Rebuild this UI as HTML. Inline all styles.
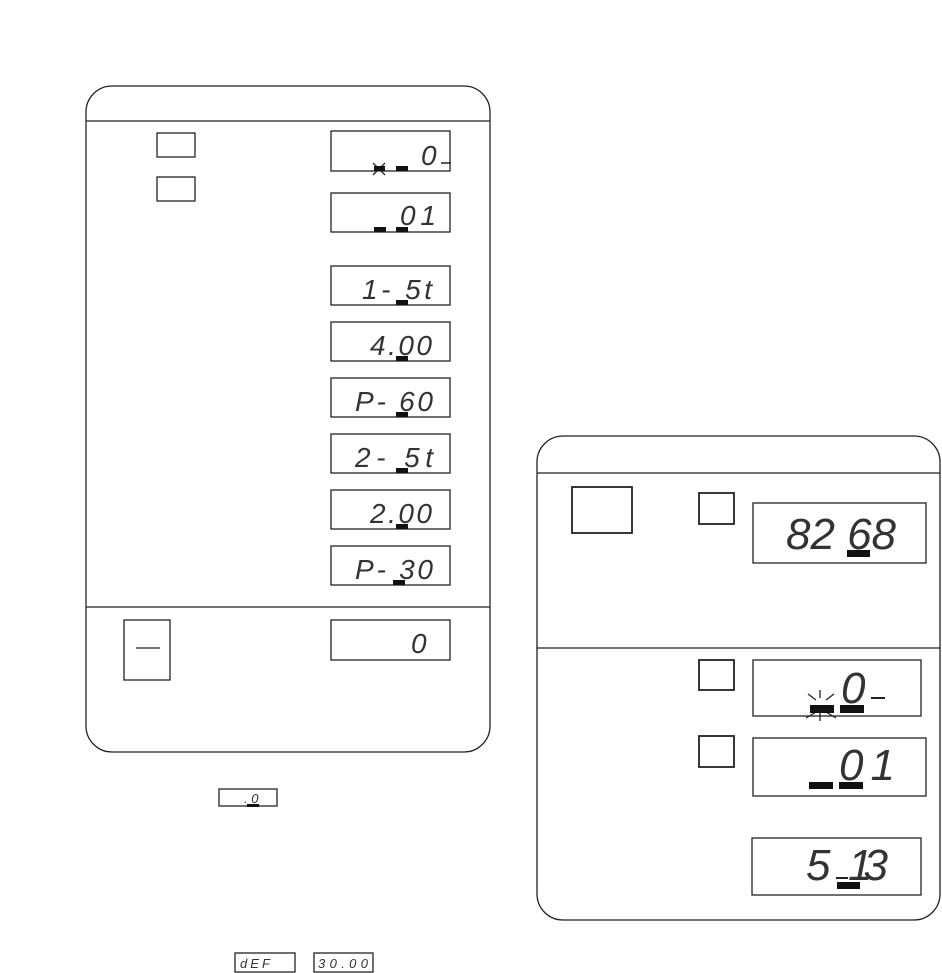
<!DOCTYPE html>
<html><head><style>
html,body{margin:0;padding:0;background:#fff;}
svg{display:block}
text{font-family:"Liberation Sans",sans-serif;font-style:italic;fill:#333;}
</style></head><body>
<svg width="942" height="973" viewBox="0 0 942 973" xmlns="http://www.w3.org/2000/svg">
<g fill="none" stroke="#222" stroke-width="1.3">
<rect x="86" y="86" width="404" height="666" rx="26"/>
<line x1="86" y1="121" x2="490" y2="121"/>
<line x1="86" y1="607" x2="490" y2="607"/>
<rect x="157" y="133" width="38" height="24"/>
<rect x="157" y="177" width="38" height="24"/>
<rect x="124" y="620" width="46" height="60"/>
<line x1="136" y1="648" x2="160" y2="648"/>
<rect x="331" y="131" width="119" height="40"/>
<rect x="331" y="193" width="119" height="39"/>
<rect x="331" y="266" width="119" height="39"/>
<rect x="331" y="322" width="119" height="39"/>
<rect x="331" y="378" width="119" height="39"/>
<rect x="331" y="434" width="119" height="39"/>
<rect x="331" y="490" width="119" height="39"/>
<rect x="331" y="546" width="119" height="39"/>
<rect x="331" y="620" width="119" height="40"/>
<rect x="537" y="436" width="403" height="484" rx="26"/>
<line x1="537" y1="473" x2="940" y2="473"/>
<line x1="537" y1="648" x2="940" y2="648"/>
<rect x="572" y="487" width="60" height="46" stroke-width="1.8"/>
<rect x="699" y="493" width="35" height="31" stroke-width="1.8"/>
<rect x="699" y="660" width="35" height="30" stroke-width="1.8"/>
<rect x="699" y="736" width="35" height="31" stroke-width="1.8"/>
<rect x="753" y="503" width="173" height="60"/>
<rect x="753" y="660" width="168" height="56"/>
<rect x="753" y="738" width="173" height="58"/>
<rect x="752" y="838" width="169" height="57"/>
<rect x="219" y="789" width="58" height="17"/>
<rect x="235" y="953" width="60" height="19"/>
<rect x="314" y="953" width="59" height="19"/>
<path d="M808 694 l8 6 M806 718 l10 -6 M820 690 v8 M820 712 v9 M834 694 l-8 6 M836 718 l-10 -6"/>
<path d="M373 163 l12 12 M385 163 l-12 12"/>
<line x1="441" y1="163" x2="451" y2="163" stroke-width="1.5"/>
<line x1="871" y1="698" x2="885" y2="698" stroke-width="2"/>
<line x1="836" y1="878" x2="848" y2="878" stroke-width="2"/>
</g>
<g fill="#111">
<rect x="374" y="166" width="11" height="5"/><rect x="396" y="166" width="12" height="5"/>
<rect x="374" y="227" width="12" height="5"/><rect x="396" y="227" width="12" height="5"/>
<rect x="396" y="300" width="12" height="5"/>
<rect x="396" y="356" width="12" height="5"/>
<rect x="396" y="412" width="12" height="5"/>
<rect x="396" y="468" width="12" height="5"/>
<rect x="396" y="524" width="12" height="5"/>
<rect x="393" y="580" width="12" height="5"/>
<rect x="847" y="550" width="23" height="7"/>
<rect x="810" y="705" width="24" height="8"/><rect x="840" y="705" width="24" height="8"/>
<rect x="809" y="782" width="24" height="7"/><rect x="839" y="782" width="24" height="7"/>
<rect x="837" y="882" width="23" height="7"/>
<rect x="247" y="804" width="12" height="3"/>
</g>
<g font-size="28">
<text x="421" y="165">0</text>
<text x="400" y="225" textLength="36">0 1</text>
<text x="362" y="299" textLength="70">1-  5t</text>
<text x="370" y="355" textLength="62">4.00</text>
<text x="355" y="411" textLength="78">P-  60</text>
<text x="355" y="467" textLength="78">2-  5t</text>
<text x="370" y="523" textLength="62">2.00</text>
<text x="355" y="579" textLength="78">P-  30</text>
<text x="411" y="653">0</text>
</g>
<g font-size="44">
<text x="786" y="549" textLength="110">82 68</text>
<text x="841" y="703">0</text>
<text x="839" y="780" textLength="56">0  1</text>
<text x="806" y="880">5</text>
<text x="848" y="880" textLength="40">13</text>
</g>
<text x="244" y="803" font-size="13">. 0</text>
<text x="240" y="968" font-size="13" textLength="30">dEF</text>
<text x="318" y="968" font-size="13" textLength="50">30.00</text>
</svg>
</body></html>
